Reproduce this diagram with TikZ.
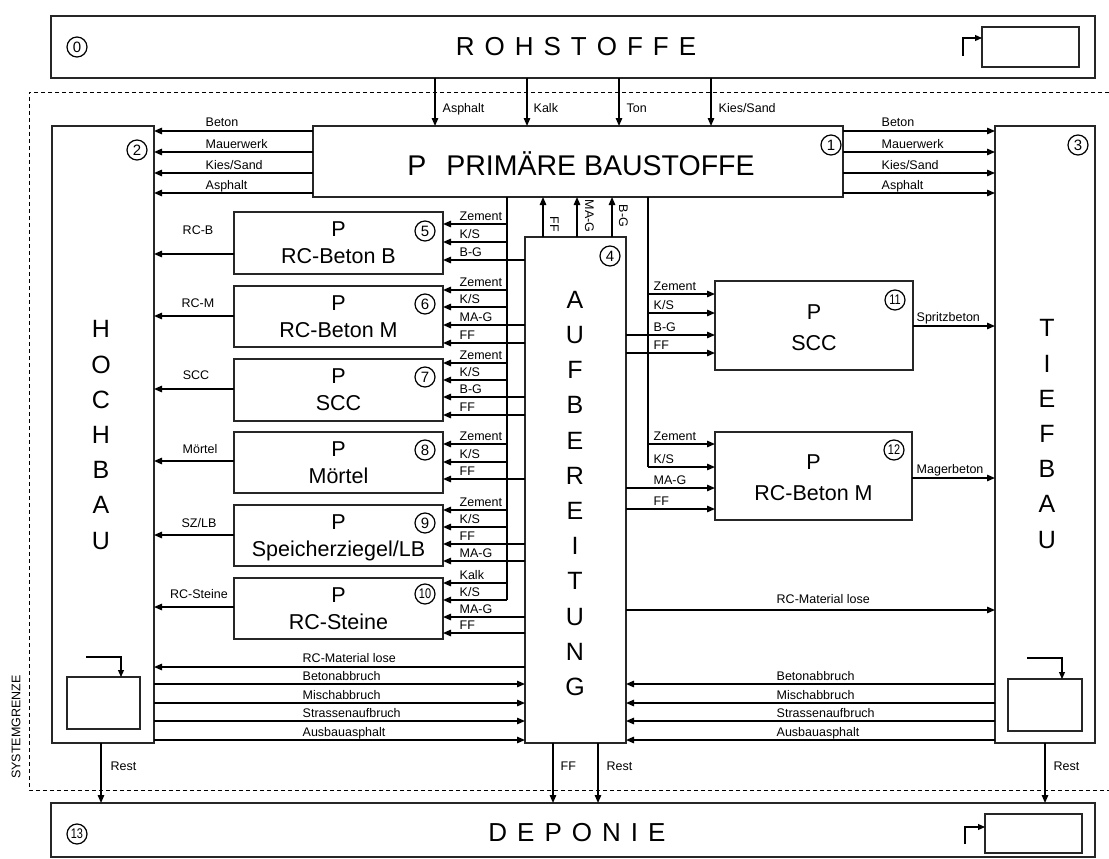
\documentclass[tikz,border=0pt]{standalone}
\usepackage{fontspec}
\setmainfont{Liberation Sans}
\usetikzlibrary{arrows.meta}
\newcommand\lsp{\hspace{10pt}}
\newcommand\twod[1]{\scalebox{0.78}[1]{#1}}
\newcommand\mkbox[5]{\node[box, minimum width={#4pt-#2pt}, minimum height={#5pt-#3pt}] (#1) at (#2,#3) {};}
\newcommand\inL[5]{\draw[arr] (#1 |- 0,#3) -- (#2.east |- 0,#3) node[lbl, anchor=base west] (#5) at (459,#3-3.5) {#4};}
\newcommand\inR[5]{\draw[arr] (#1 |- 0,#3) -- (#2.west |- 0,#3) node[lbl, anchor=base west] (#5) at (653,#3-3.5) {#4};}
\begin{document}
\begin{tikzpicture}[x=1pt,y=-1pt,
 box/.style={draw=black!85, line width=1.1pt, inner sep=0pt, outer sep=0pt, anchor=north west, fill=white},
 arr/.style={draw=black, line width=1.4pt, -{Triangle[length=8pt,width=6.5pt]}},
 hook/.style={draw=black, line width=1.1pt, -{Triangle[length=7pt,width=6pt]}},
 lbl/.style={font=\fontsize{12.5}{14}\selectfont, inner sep=0pt},
 num/.style={circle, draw=black, line width=1.2pt, minimum size=20pt, inner sep=0pt, font=\fontsize{15}{15}\selectfont},
 numb/.style={num, font=\fontsize{14}{14}\selectfont},
 big/.style={font=\fontsize{26}{26}\selectfont, inner sep=0pt},
 ptxt/.style={font=\fontsize{21.5}{27}\selectfont, align=center, inner sep=0pt},
 ptxtb/.style={font=\fontsize{21.5}{31}\selectfont, align=center, inner sep=0pt},
 vert/.style={font=\fontsize{25}{35.2}\selectfont, align=center, inner sep=0pt},
 sysline/.style={draw=black, line width=0.9pt, dash pattern=on 4pt off 3pt}]
\fill[white] (0,0) rectangle (1109,859);
\useasboundingbox (0,0) rectangle (1109,859);

% system boundary
\draw[sysline] (1109,92) -- (29,92) -- (29,790) -- (1109,790);
\node[lbl, rotate=90] (sg) at (16,727) {SYSTEMGRENZE};

% boxes
\mkbox{rohst}{51}{16}{1095}{78}
\mkbox{depo}{51}{803}{1095}{857}
\mkbox{hoch}{52}{126}{154}{743}
\mkbox{tief}{995}{126}{1095}{743}
\mkbox{prim}{313}{126}{843}{197}
\mkbox{aufb}{525}{237}{626}{743}
\mkbox{b5}{234}{212}{443}{274}
\mkbox{b6}{234}{286}{443}{347}
\mkbox{b7}{234}{359}{443}{421}
\mkbox{b8}{234}{432}{443}{493}
\mkbox{b9}{234}{505}{443}{566}
\mkbox{b10}{234}{578}{443}{639}
\mkbox{b11}{715}{281}{913}{370}
\mkbox{b12}{715}{432}{912}{520}
\mkbox{rsm}{982}{27}{1079}{67}
\mkbox{dsm}{985}{814}{1082}{853}
\mkbox{hsm}{67}{677}{140}{729}
\mkbox{tsm}{1008}{679}{1082}{731}

% texts
\node[big] (rtxt) at (576,47) {R\lsp O\lsp H\lsp S\lsp T\lsp O\lsp F\lsp F\lsp E};
\node[big] (dtxt) at (577,833) {D\lsp E\lsp P\lsp O\lsp N\lsp I\lsp E};
\node[font=\fontsize{28.5}{30}\selectfont, inner sep=0pt, anchor=base] (ptx) at (581,175) {P\hspace{20pt}PRIMÄRE BAUSTOFFE};
\node[vert] (hochtxt) at (101,435) {H\\O\\C\\H\\B\\A\\U};
\node[vert] (tieftxt) at (1047,434) {T\\I\\E\\F\\B\\A\\U};
\node[vert] (auftxt) at (575,493.5) {A\\U\\F\\B\\E\\R\\E\\I\\T\\U\\N\\G};
\node[ptxt] (t5) at (b5.center) {P\\RC-Beton B};
\node[ptxt] (t6) at (b6.center) {P\\RC-Beton M};
\node[ptxt] (t7) at (b7.center) {P\\SCC};
\node[ptxt] (t8) at (b8.center) {P\\Mörtel};
\node[ptxt] (t9) at ([yshift=-2pt]b9.center) {P\\Speicherziegel/LB};
\node[ptxt] (t10) at (b10.center) {P\\RC-Steine};
\node[ptxtb] (t11) at ([yshift=-2pt]b11.center) {P\\SCC};
\node[ptxtb] (t12) at ([yshift=-2pt]b12.center) {P\\RC-Beton M};

% circled numbers
\node[num] (n0) at (77,47) {0};
\node[num] (n1) at (831,145) {1};
\node[num] (n2) at (137,150) {2};
\node[num] (n3) at (1078,145) {3};
\node[num] (n4) at (610,256) {4};
\node[num] (n5) at (425,231) {5};
\node[num] (n6) at (425,304) {6};
\node[num] (n7) at (425,377) {7};
\node[num] (n8) at (425,450) {8};
\node[num] (n9) at (425,523) {9};
\node[numb] (n10) at (425,594) {\twod{10}};
\node[numb] (n11) at (895,300) {\twod{11}};
\node[numb] (n12) at (894,450) {\twod{12}};
\node[numb] (n13) at (77,834) {\twod{13}};

% hooks
\coordinate (rh) at (963,56);
\draw[hook] (rh) |- (rsm.west |- 0,38);
\coordinate (dh) at (965,844);
\draw[hook] (dh) |- (dsm.west |- 0,827);
\coordinate (hh) at (86,657);
\draw[hook] (hh) -| (hsm.north -| 121,0);
\coordinate (th) at (1027,658);
\draw[hook] (th) -| (tsm.north -| 1062,0);

% raw materials
\draw[arr] (rohst.south -| 435,0) -- (prim.north -| 435,0) node[lbl, anchor=base west] (la1) at (442,112.5) {Asphalt};
\draw[arr] (rohst.south -| 527,0) -- (prim.north -| 527,0) node[lbl, anchor=base west] (la2) at (533,112.5) {Kalk};
\draw[arr] (rohst.south -| 619,0) -- (prim.north -| 619,0) node[lbl, anchor=base west] (la3) at (626,112.5) {Ton};
\draw[arr] (rohst.south -| 711,0) -- (prim.north -| 711,0) node[lbl, anchor=base west] (la4) at (718,112.5) {Kies/Sand};

% primary products
\draw[arr] (prim.west |- 0,131) -- (hoch.east |- 0,131) node[lbl, anchor=base west] (lp1) at (205,126.5) {Beton};
\draw[arr] (prim.west |- 0,152) -- (hoch.east |- 0,152) node[lbl, anchor=base west] (lp2) at (205,148) {Mauerwerk};
\draw[arr] (prim.west |- 0,173) -- (hoch.east |- 0,173) node[lbl, anchor=base west] (lp3) at (205,169.5) {Kies/Sand};
\draw[arr] (prim.west |- 0,193) -- (hoch.east |- 0,193) node[lbl, anchor=base west] (lp4) at (205,189) {Asphalt};
\draw[arr] (prim.east |- 0,131) -- (tief.west |- 0,131) node[lbl, anchor=base west] (lq1) at (881,126.5) {Beton};
\draw[arr] (prim.east |- 0,152) -- (tief.west |- 0,152) node[lbl, anchor=base west] (lq2) at (881,148) {Mauerwerk};
\draw[arr] (prim.east |- 0,173) -- (tief.west |- 0,173) node[lbl, anchor=base west] (lq3) at (881,169.5) {Kies/Sand};
\draw[arr] (prim.east |- 0,193) -- (tief.west |- 0,193) node[lbl, anchor=base west] (lq4) at (881,189) {Asphalt};

% trunks
\coordinate (tL) at (prim.south -| 507,0);
\coordinate (tLb) at (507,600);
\draw[draw=black, line width=1.2pt] (tL) -- (tLb);
\coordinate (tR) at (prim.south -| 648,0);
\coordinate (tRb) at (648,467);
\draw[draw=black, line width=1.2pt] (tR) -- (tRb);

% up arrows from Aufbereitung
\draw[arr] (aufb.north -| 543,0) -- (prim.south -| 543,0) node[lbl, rotate=-90, anchor=base west] (lu1) at (550,216) {FF};
\draw[arr] (aufb.north -| 577,0) -- (prim.south -| 577,0) node[lbl, rotate=-90, anchor=base west] (lu2) at (585,199) {MA-G};
\draw[arr] (aufb.north -| 612,0) -- (prim.south -| 612,0) node[lbl, rotate=-90, anchor=base west] (lu3) at (619,204) {B-G};

% inputs left boxes
\inL{tL}{b5}{224}{Zement}{i51}
\inL{tL}{b5}{242}{K/S}{i52}
\inL{aufb.west}{b5}{260}{B-G}{i53}
\inL{tL}{b6}{290}{Zement}{i61}
\inL{tL}{b6}{307}{K/S}{i62}
\inL{aufb.west}{b6}{325}{MA-G}{i63}
\inL{aufb.west}{b6}{343}{FF}{i64}
\inL{tL}{b7}{363}{Zement}{i71}
\inL{tL}{b7}{380}{K/S}{i72}
\inL{aufb.west}{b7}{397}{B-G}{i73}
\inL{aufb.west}{b7}{415}{FF}{i74}
\inL{tL}{b8}{444}{Zement}{i81}
\inL{tL}{b8}{462}{K/S}{i82}
\inL{aufb.west}{b8}{479}{FF}{i83}
\inL{tL}{b9}{510}{Zement}{i91}
\inL{tL}{b9}{527}{K/S}{i92}
\inL{aufb.west}{b9}{544}{FF}{i93}
\inL{aufb.west}{b9}{561}{MA-G}{i94}
\inL{tL}{b10}{583}{Kalk}{i101}
\inL{tL}{b10}{600}{K/S}{i102}
\inL{aufb.west}{b10}{617}{MA-G}{i103}
\inL{aufb.west}{b10}{633}{FF}{i104}

% inputs right boxes
\inR{tR}{b11}{294}{Zement}{i111}
\inR{tR}{b11}{313}{K/S}{i112}
\inR{aufb.east}{b11}{335}{B-G}{i113}
\inR{aufb.east}{b11}{353}{FF}{i114}
\inR{tR}{b12}{444}{Zement}{i121}
\inR{tR}{b12}{467}{K/S}{i122}
\inR{aufb.east}{b12}{488}{MA-G}{i123}
\inR{aufb.east}{b12}{509}{FF}{i124}

% outputs to Hochbau
\draw[arr] (b5.west |- 0,254) -- (hoch.east |- 0,254) node[lbl, anchor=base] (o5) at (198,234.5) {RC-B};
\draw[arr] (b6.west |- 0,316) -- (hoch.east |- 0,316) node[lbl, anchor=base] (o6) at (198,307.5) {RC-M};
\draw[arr] (b7.west |- 0,389) -- (hoch.east |- 0,389) node[lbl, anchor=base] (o7) at (196,379.5) {SCC};
\draw[arr] (b8.west |- 0,461) -- (hoch.east |- 0,461) node[lbl, anchor=base] (o8) at (200,453.5) {Mörtel};
\draw[arr] (b9.west |- 0,535) -- (hoch.east |- 0,535) node[lbl, anchor=base] (o9) at (199,527.5) {SZ/LB};
\draw[arr] (b10.west |- 0,607) -- (hoch.east |- 0,607) node[lbl, anchor=base] (o10) at (199,598.5) {RC-Steine};

% outputs to Tiefbau
\draw[arr] (b11.east |- 0,326) -- (tief.west |- 0,326) node[lbl, anchor=base west] (o11) at (916,321.5) {Spritzbeton};
\draw[arr] (b12.east |- 0,478) -- (tief.west |- 0,478) node[lbl, anchor=base west] (o12) at (916,473.5) {Magerbeton};
\draw[arr] (aufb.east |- 0,610) -- (tief.west |- 0,610) node[lbl, anchor=base west] (or) at (776,603) {RC-Material lose};

% bottom flows left
\draw[arr] (aufb.west |- 0,667) -- (hoch.east |- 0,667) node[lbl, anchor=base west] (bl0) at (302,662.5) {RC-Material lose};
\draw[arr] (hoch.east |- 0,684) -- (aufb.west |- 0,684) node[lbl, anchor=base west] (bl1) at (302,680) {Betonabbruch};
\draw[arr] (hoch.east |- 0,703) -- (aufb.west |- 0,703) node[lbl, anchor=base west] (bl2) at (302,699) {Mischabbruch};
\draw[arr] (hoch.east |- 0,721) -- (aufb.west |- 0,721) node[lbl, anchor=base west] (bl3) at (302,717.5) {Strassenaufbruch};
\draw[arr] (hoch.east |- 0,740) -- (aufb.west |- 0,740) node[lbl, anchor=base west] (bl4) at (302,736) {Ausbauasphalt};
% bottom flows right
\draw[arr] (tief.west |- 0,684) -- (aufb.east |- 0,684) node[lbl, anchor=base west] (br1) at (776,680) {Betonabbruch};
\draw[arr] (tief.west |- 0,703) -- (aufb.east |- 0,703) node[lbl, anchor=base west] (br2) at (776,699) {Mischabbruch};
\draw[arr] (tief.west |- 0,721) -- (aufb.east |- 0,721) node[lbl, anchor=base west] (br3) at (776,717.5) {Strassenaufbruch};
\draw[arr] (tief.west |- 0,740) -- (aufb.east |- 0,740) node[lbl, anchor=base west] (br4) at (776,736) {Ausbauasphalt};

% to Deponie
\draw[arr] (hoch.south -| 101,0) -- (depo.north -| 101,0) node[lbl, anchor=base west] (d1) at (110,770.5) {Rest};
\draw[arr] (aufb.south -| 553,0) -- (depo.north -| 553,0) node[lbl, anchor=base west] (d2) at (560,770.5) {FF};
\draw[arr] (aufb.south -| 598,0) -- (depo.north -| 598,0) node[lbl, anchor=base west] (d3) at (606,770.5) {Rest};
\draw[arr] (tief.south -| 1045,0) -- (depo.north -| 1045,0) node[lbl, anchor=base west] (d4) at (1053,770.5) {Rest};
\end{tikzpicture}
\end{document}
